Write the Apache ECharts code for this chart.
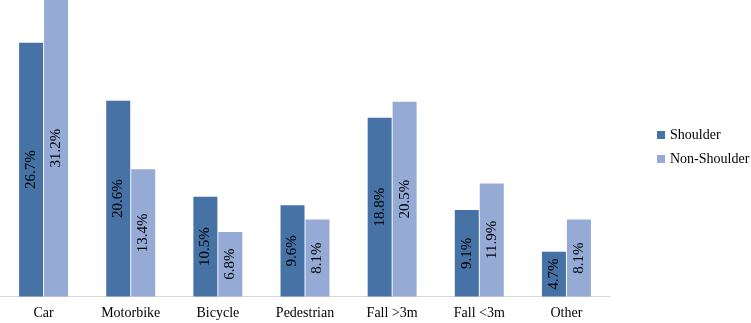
<!DOCTYPE html>
<html>
<head>
<meta charset="utf-8">
<script src="https://cdn.jsdelivr.net/npm/echarts@6/dist/echarts.min.js"></script>
<style>
  html, body { margin: 0; padding: 0; background: #fff; }
  #main { width: 751px; height: 323px; }
</style>
</head>
<body>
<div id="main"></div>
<script>
var categories = ['Car', 'Motorbike', 'Bicycle', 'Pedestrian', 'Fall >3m', 'Fall <3m', 'Other'];
var shoulder = [26.7, 20.6, 10.5, 9.6, 18.8, 9.1, 4.7];
var nonShoulder = [31.2, 13.4, 6.8, 8.1, 20.5, 11.9, 8.1];

var chart = echarts.init(document.getElementById('main'));

var labelStyle = {
    show: true,
    position: 'inside',
    rotate: 90,
    color: '#000',
    fontFamily: 'Liberation Serif',
    fontSize: 15,
    formatter: function (p) { return p.value.toFixed(1) + '%'; }
};

var option = {
    animation: false,
    textStyle: { fontFamily: 'Liberation Serif' },
    grid: { left: 0, top: 0, width: 610, bottom: 26.5, containLabel: false },
    legend: {
        orient: 'vertical',
        left: 652,
        top: 123,
        itemWidth: 8,
        itemHeight: 8,
        itemGap: 10,
        icon: 'rect',
        textStyle: { fontFamily: 'Liberation Serif', fontSize: 14, color: '#000' },
        data: ['Shoulder', 'Non-Shoulder']
    },
    xAxis: {
        type: 'category',
        data: categories,
        axisLine: { lineStyle: { color: '#d9d9d9', width: 1 } },
        axisTick: { show: false },
        axisLabel: { color: '#000', fontSize: 14, fontFamily: 'Liberation Serif', margin: 10 }
    },
    yAxis: {
        type: 'value',
        min: 0,
        max: 31.2,
        show: false,
        splitLine: { show: false }
    },
    series: [
        {
            name: 'Shoulder',
            type: 'bar',
            data: shoulder,
            barWidth: 24,
            barGap: '4%',
            itemStyle: { color: '#4672a6' },
            label: labelStyle
        },
        {
            name: 'Non-Shoulder',
            type: 'bar',
            data: nonShoulder,
            barWidth: 24,
            itemStyle: { color: '#95abd6' },
            label: labelStyle
        }
    ]
};

chart.setOption(option);
</script>
</body>
</html>
